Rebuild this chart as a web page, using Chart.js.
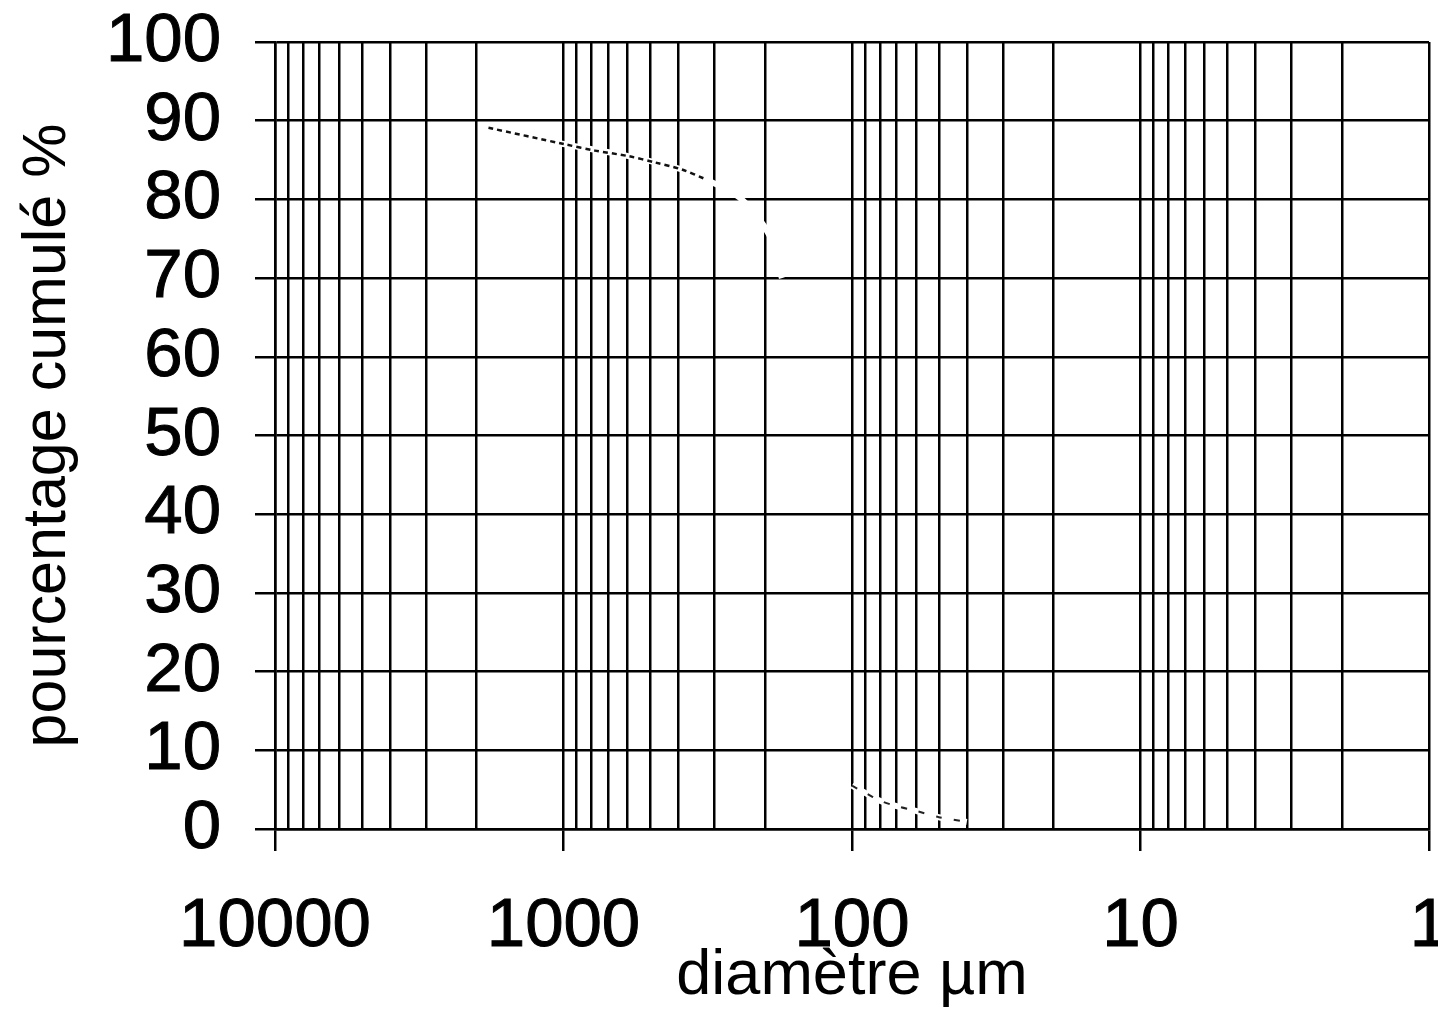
<!DOCTYPE html>
<html>
<head>
<meta charset="utf-8">
<title>Courbe granulométrique</title>
<script src="https://cdn.jsdelivr.net/npm/chart.js@4.4.0/dist/chart.umd.min.js"></script>
<style>
  html, body { margin: 0; padding: 0; background: #fff; }
  #wrap { width: 1438px; height: 1011px; }
</style>
</head>
<body>
<div id="wrap"><canvas id="granulo" width="1438" height="1011"></canvas></div>
<script>
// diamètres (µm) et pourcentage cumulé
const coarseDiam = [1820, 988, 778, 596, 482, 389, 323];
const coarsePct  = [89.1, 87.0, 86.2, 85.5, 84.7, 83.8, 82.6];
const bendDiam   = [1820, 988, 596, 389, 323, 241, 193, 175];
const bendPct    = [89.1, 87.0, 85.5, 83.8, 82.6, 80.0, 75.4, 70.0];
const fineDiam   = [100, 90, 80, 70, 60, 50, 40];
const finePct    = [5.5, 4.6, 3.6, 2.9, 2.3, 1.5, 0.9];

// axes
const decades = [1, 10, 100, 1000, 10000];
const subSteps = [2, 3, 4, 5, 6, 7, 8, 9];
const pctTicks = [0, 10, 20, 30, 40, 50, 60, 70, 80, 90, 100];

const toPoints = (xs, ys) => xs.map((x, i) => ({ x: x, y: ys[i] }));

// every grid value of the log axis: 1..9 in each decade, plus 10000
const diamGrid = [];
decades.forEach(d => {
    diamGrid.push(d);
    if (d < 10000) subSteps.forEach(s => diamGrid.push(d * s));
});

const FONT = '"Liberation Sans", Arial, sans-serif';

const ctx = document.getElementById('granulo').getContext('2d');
new Chart(ctx, {
    type: 'line',
    data: {
        datasets: [
            {
                // visible dotted part near the top
                data: toPoints(coarseDiam, coarsePct),
                borderColor: '#111',
                borderWidth: 2.5,
                borderDash: [5, 4],
                pointRadius: 0,
                tension: 0.3
            },
            {
                data: toPoints(fineDiam, finePct),
                borderColor: '#222',
                borderWidth: 2,
                borderDash: [6, 12],
                pointRadius: 0,
                tension: 0.3
            },
            {
                // curve body, white over the grid
                data: toPoints(bendDiam, bendPct),
                borderColor: '#fff',
                borderWidth: 6,
                pointRadius: 0,
                tension: 0.3
            },
            {
                data: toPoints(fineDiam, finePct),
                borderColor: '#fff',
                borderWidth: 6,
                pointRadius: 0,
                tension: 0.3
            }
        ]
    },
    options: {
        responsive: false,
        animation: false,
        devicePixelRatio: 1,
        layout: { padding: { top: 42, right: 9, left: 0, bottom: 0 } },
        plugins: {
            legend: { display: false },
            tooltip: { enabled: false }
        },
        scales: {
            x: {
                type: 'logarithmic',
                min: 1,
                max: 10000,
                reverse: true,
                afterBuildTicks: scale => {
                    scale.ticks = diamGrid.map(v => ({ value: v, major: decades.includes(v) }));
                },
                afterFit: scale => {
                    scale.height = 182;
                    scale.paddingLeft = 0;
                    scale.paddingRight = 0;
                },
                grid: {
                    color: '#000',
                    lineWidth: 2.5,
                    tickLength: 22,
                    tickWidth: 2.5,
                    tickColor: c => (c.tick && decades.includes(c.tick.value)) ? '#000' : 'rgba(0,0,0,0)'
                },
                border: { color: '#000', width: 2.5 },
                ticks: {
                    autoSkip: false,
                    maxRotation: 0,
                    minRotation: 0,
                    padding: 35,
                    color: '#000',
                    textStrokeColor: '#000',
                    textStrokeWidth: 1,
                    font: { family: FONT, size: 69 },
                    callback: value => decades.includes(value) ? String(value) : ''
                },
                title: {
                    display: true,
                    text: 'diamètre µm',
                    color: '#000',
                    padding: { top: 0, bottom: 0 },
                    font: { family: FONT, size: 63, lineHeight: 1.1 }
                }
            },
            y: {
                min: 0,
                max: 100,
                afterBuildTicks: scale => {
                    scale.ticks = pctTicks.map(v => ({ value: v }));
                },
                afterFit: scale => {
                    scale.width = 275;
                    scale.paddingTop = 0;
                    scale.paddingBottom = 0;
                },
                grid: {
                    color: '#000',
                    lineWidth: 2.5,
                    tickLength: 20,
                    tickWidth: 2.5,
                    tickColor: '#000'
                },
                border: { color: '#000', width: 2.5 },
                ticks: {
                    autoSkip: false,
                    padding: 34,
                    color: '#000',
                    textStrokeColor: '#000',
                    textStrokeWidth: 1,
                    font: { family: FONT, size: 69 }
                },
                title: {
                    display: true,
                    text: 'pourcentage cumulé %',
                    color: '#000',
                    padding: { top: 12, bottom: 0 },
                    font: { family: FONT, size: 61 }
                }
            }
        }
    }
});
</script>
</body>
</html>
